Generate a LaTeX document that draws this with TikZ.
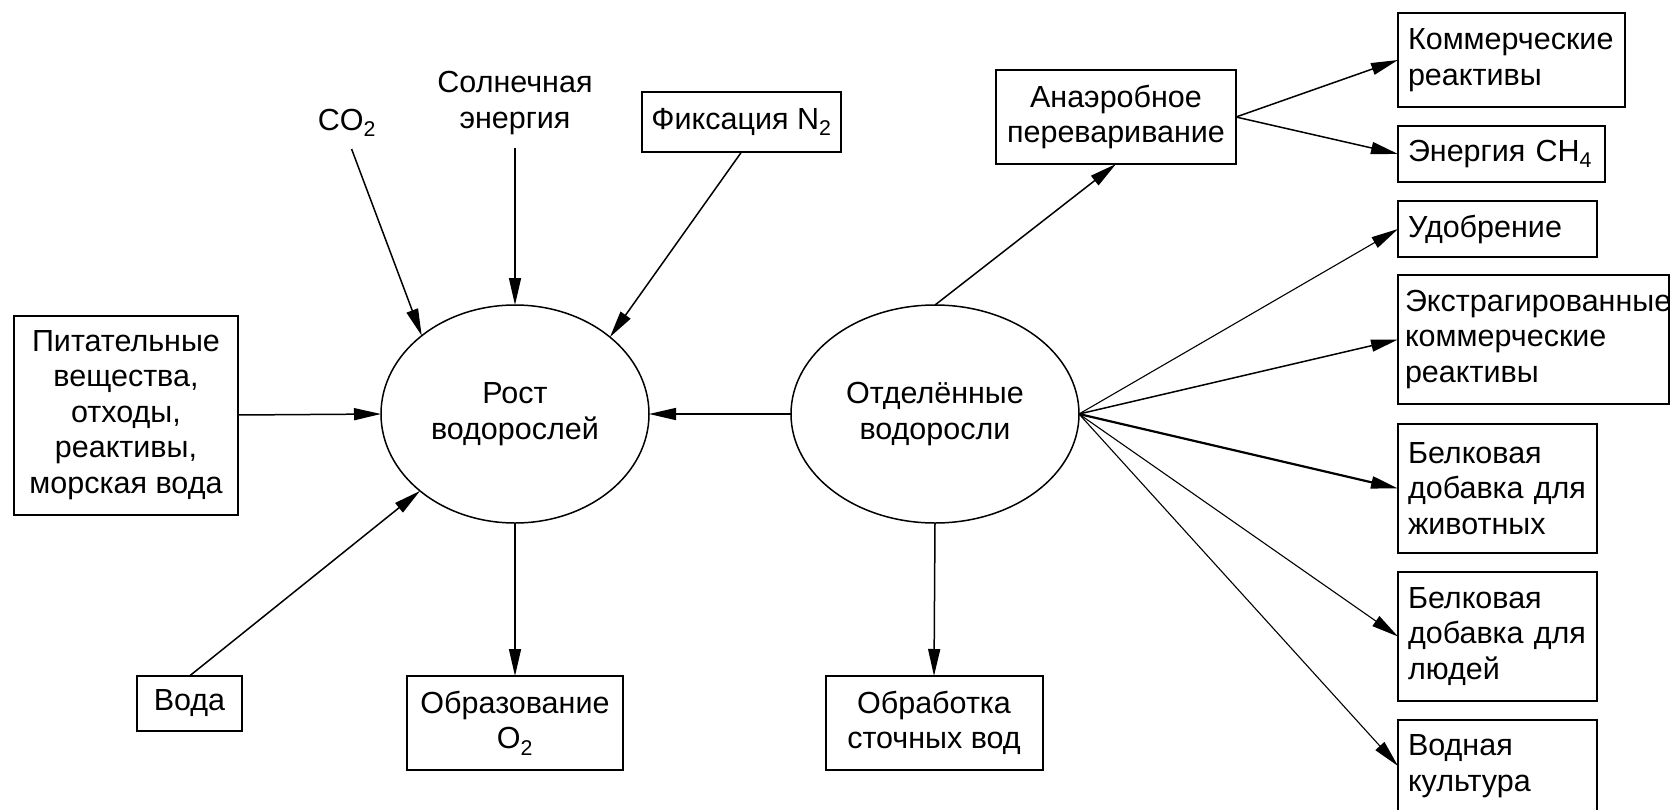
\documentclass[tikz,border=0pt]{standalone}
\usepackage{fontspec}
\setmainfont{Liberation Sans}
\usetikzlibrary{arrows.meta,shapes.geometric}
\begin{document}
\begin{tikzpicture}[x=1pt,y=-1pt,
  txt/.style={font=\fontsize{30.5}{35.5}\selectfont, align=center, inner sep=0pt, outer sep=0pt},
  box/.style={txt, draw, line width=2pt},
  rbox/.style={box, align=left},
  elli/.style={txt, draw, ellipse, line width=1.5pt},
  arr/.style={-{Triangle[length=27pt,width=12pt]}, line width=1.5pt},
  thinarr/.style={arr, line width=1.1pt}]
\useasboundingbox (0,0) rectangle (1671,809);

% left part
\node[elli, minimum width=268pt, minimum height=218pt] (rost) at (515,414) {Рост\\водорослей};
\node[box, minimum width=224pt, minimum height=199pt] (pit) at (126,415) {Питательные\\вещества,\\отходы,\\реактивы,\\морская вода};
\node[box, minimum width=105pt, minimum height=55pt] (voda) at (189.5,703.5) {Вода};
\node[box, minimum width=216pt, minimum height=94pt] (otwo) at (515,723) {Образование\\O\textsubscript{2}};
\node[box, minimum width=199pt, minimum height=60pt] (ntwo) at (741.5,122) {Фиксация N\textsubscript{2}};
\node[txt] (co2) at (347,123) {CO\textsubscript{2}};
\node[txt] (sun) at (515,103) {Солнечная\\энергия};

% right part
\node[elli, minimum width=288pt, minimum height=218pt] (sep) at (935,414) {Отделённые\\водоросли};
\node[box, minimum width=217pt, minimum height=94pt] (obr) at (934,723) {Обработка\\сточных вод};
\node[box, minimum width=240pt, minimum height=94pt] (anaer) at (1116,117) {Анаэробное\\переваривание};
\node[rbox, minimum width=227pt, text width=207pt, minimum height=94pt] (kom) at (1511.5,60) {Коммерческие\\реактивы};
\node[rbox, minimum width=207pt, text width=187pt, minimum height=56pt] (ener) at (1501.5,154) {Энергия CH\textsubscript{4}};
\node[rbox, minimum width=199pt, text width=179pt, minimum height=56pt] (udob) at (1497.5,229) {Удобрение};
\node[rbox, minimum width=271pt, text width=257pt, minimum height=129pt] (ext) at (1533.5,339.5) {Экстрагированные\\коммерческие\\реактивы};
\node[rbox, minimum width=199pt, text width=179pt, minimum height=129pt] (bel1) at (1497.5,488.5) {Белковая\\\mbox{добавка для}\\животных};
\node[rbox, minimum width=199pt, text width=179pt, minimum height=129pt] (bel2) at (1497.5,636.5) {Белковая\\\mbox{добавка для}\\людей};
\node[rbox, minimum width=199pt, text width=179pt, minimum height=92pt] (vk) at (1497.5,766) {Водная\\культура};

% connectors, left
\draw[arr] (pit.east) -- (rost.west);
\draw[arr, shorten <=13pt] (co2.south) -- (rost.140);
\draw[arr, shorten <=13pt] (sun.south) -- (rost.north);
\draw[arr] (ntwo.south) -- (rost.39);
\draw[arr] (voda.north) -- (rost.219);
\draw[arr] (rost.south) -- (otwo.north);

% connectors, right
\draw[arr] (sep.west) -- (rost.east);
\draw[arr] (sep.north) -- (anaer.south);
\draw[arr] (sep.south) -- (obr.north);
\draw[arr] (anaer.east) -- (kom.west);
\draw[arr] (anaer.east) -- (ener.west);
\draw[thinarr] (sep.east) -- (udob.west);
\draw[arr] (sep.east) -- (ext.west);
\draw[arr, line width=2.2pt] (sep.east) -- (bel1.west);
\draw[thinarr] (sep.east) -- (bel2.west);
\draw[thinarr] (sep.east) -- (vk.west);
\end{tikzpicture}
\end{document}
